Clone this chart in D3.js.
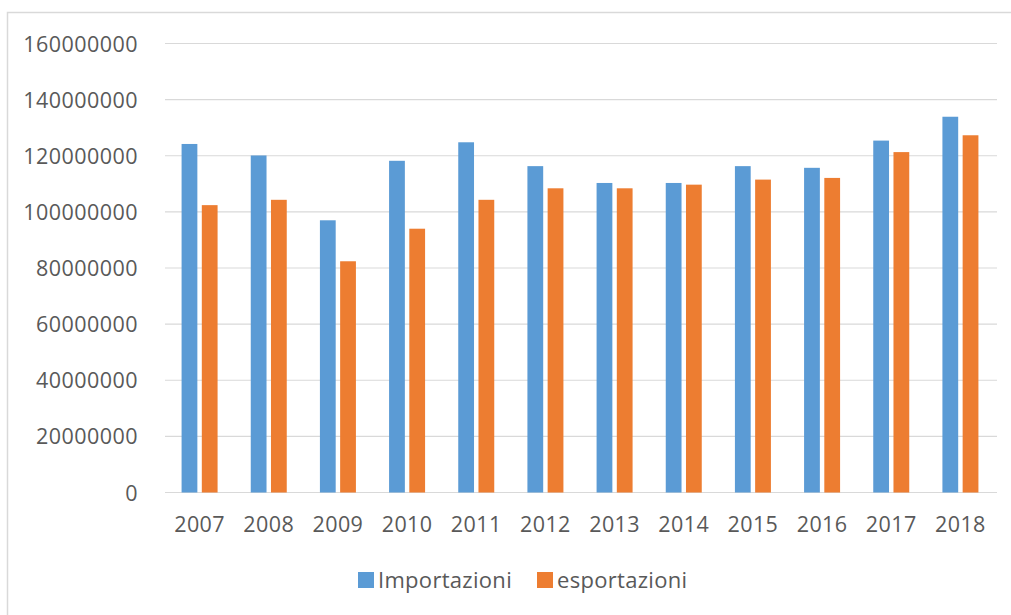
<!DOCTYPE html>
<html>
<head>
<meta charset="utf-8">
<script src="https://cdn.jsdelivr.net/npm/d3@7"></script>
<style>
    body { margin: 0; background: #fff; }
    #chart text { font-family: "Open Sans", sans-serif; fill: #595959; }
</style>
</head>
<body>
<div id="chart"></div>
<script>
// Data
const years = ["2007", "2008", "2009", "2010", "2011", "2012", "2013", "2014", "2015", "2016", "2017", "2018"];
const importazioni = [124200000, 120100000, 97000000, 118200000, 124800000, 116300000, 110300000, 110300000, 116300000, 115700000, 125400000, 133900000];
const esportazioni = [102400000, 104300000, 82400000, 94000000, 104300000, 108400000, 108400000, 109700000, 111500000, 112100000, 121300000, 127300000];
const yTicks = [0, 20000000, 40000000, 60000000, 80000000, 100000000, 120000000, 140000000, 160000000];
const seriesNames = ["Importazioni", "esportazioni"];
const seriesColors = ["#5B9BD5", "#ED7D31"];

const WIDTH = 1011;
const HEIGHT = 615;
const PLOT = { left: 165, right: 995, top: 43.5, bottom: 492.5 };

const svg = d3.select("#chart")
    .append("svg")
    .attr("width", WIDTH)
    .attr("height", HEIGHT);

// Chart area border (only top and left are visible in the picture)
svg.append("rect")
    .attr("x", 7.5)
    .attr("y", 12.5)
    .attr("width", WIDTH + 20)
    .attr("height", HEIGHT + 20)
    .attr("fill", "none")
    .attr("stroke", "#D9D9D9")
    .attr("stroke-width", 1.5);

const x = d3.scaleBand()
    .domain(years)
    .range([PLOT.left, PLOT.right]);

const x1 = d3.scaleBand()
    .domain(seriesNames)
    .range([-18, 18])
    .paddingInner(0.22);

const y = d3.scaleLinear()
    .domain([0, 160000000])
    .range([PLOT.bottom, PLOT.top]);

// Gridlines
svg.append("g")
    .selectAll("line")
    .data(yTicks)
    .enter()
    .append("line")
    .attr("x1", PLOT.left)
    .attr("x2", PLOT.right + 2)
    .attr("y1", d => y(d))
    .attr("y2", d => y(d))
    .attr("stroke", "#D9D9D9")
    .attr("stroke-width", 1.2);

// Y axis labels
const yAxis = svg.append("g")
    .attr("transform", `translate(${PLOT.left - 27},0)`)
    .call(d3.axisLeft(y).tickValues(yTicks).tickFormat(d3.format("d")).tickSize(0).tickPadding(0));
yAxis.select(".domain").remove();
yAxis.selectAll("text")
    .style("font-size", "21.5px")
    .style("letter-spacing", "0.45px")
    .attr("dy", "0.35em");

// X axis labels
const xAxis = svg.append("g")
    .attr("transform", `translate(0,${PLOT.bottom})`)
    .call(d3.axisBottom(x).tickSize(0).tickPadding(24));
xAxis.select(".domain").remove();
xAxis.selectAll("text")
    .style("font-size", "21.5px")
    .style("letter-spacing", "0.4px");

// Bars
const rows = years.map((yr, i) => ({ year: yr, values: [importazioni[i], esportazioni[i]] }));

const groups = svg.append("g")
    .selectAll("g")
    .data(rows)
    .enter()
    .append("g")
    .attr("transform", d => `translate(${x(d.year) + x.bandwidth() / 2},0)`);

groups.selectAll("rect")
    .data(d => d.values.map((v, k) => ({ name: seriesNames[k], value: v, color: seriesColors[k] })))
    .enter()
    .append("rect")
    .attr("x", d => x1(d.name))
    .attr("y", d => y(d.value))
    .attr("width", x1.bandwidth())
    .attr("height", d => y(0) - y(d.value))
    .attr("fill", d => d.color);

// Legend
const legendX = [358, 537];
const legend = svg.append("g")
    .selectAll("g")
    .data(seriesNames)
    .enter()
    .append("g")
    .attr("transform", (d, i) => `translate(${legendX[i]},572)`);

legend.append("rect")
    .attr("width", 16)
    .attr("height", 16)
    .attr("fill", (d, i) => seriesColors[i]);

legend.append("text")
    .attr("x", 20)
    .attr("y", 16)
    .style("font-size", "22px")
    .style("letter-spacing", "0.3px")
    .text(d => d);
</script>
</body>
</html>
